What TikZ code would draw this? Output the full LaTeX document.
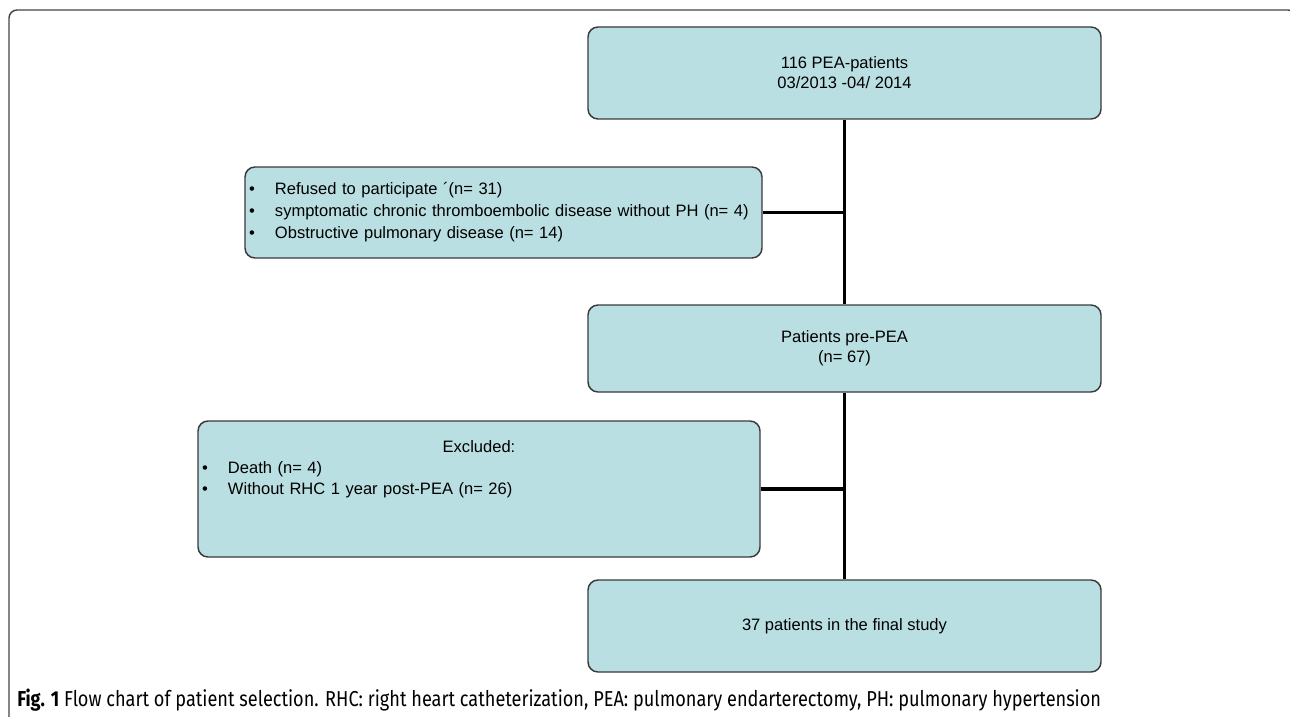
\documentclass[tikz,border=0pt]{standalone}
\usepackage{fontspec}
\setmainfont{Liberation Sans}
\newfontfamily\capfont[FakeStretch=0.84]{Fira Sans}
\usepackage{xcolor}
\usetikzlibrary{positioning,calc}

\definecolor{boxfill}{HTML}{BADFE2}
\definecolor{boxline}{HTML}{3A3A3A}
\definecolor{framegray}{HTML}{444444}

\tikzset{
    flowbox/.style={draw=boxline, fill=boxfill, line width=1.1pt, rounded corners=7.5pt,
        font=\fontsize{12.4}{15}\selectfont, inner sep=0pt, align=center},
    trunk/.style={line width=2.4pt, black},
}
\newcommand{\bul}{\makebox[19.5pt][l]{\textbullet}}

\begin{document}
\begin{tikzpicture}[x=0.75pt, y=-0.75pt]
        \useasboundingbox (0,0) rectangle (1290,717);
        % Frame
        \draw[framegray, line width=1.1pt, rounded corners=6pt] (9,740) -- (9,10) -- (1296,10) -- (1296,740);

        % Main column
        \node[flowbox, minimum width=384.75pt, minimum height=69pt] (start) at (844.5,73)
            {116 PEA-patients\\03/2013 -04/ 2014};
        \node[flowbox, minimum width=384.75pt, minimum height=65.25pt] (pre) at (844.5,348.5)
            {Patients pre-PEA\\(n= 67)};
        \node[flowbox, minimum width=384.75pt, minimum height=69pt] (final) at (844.5,626)
            {37 patients in the final study};

        % Exclusions
        \node[flowbox, minimum width=387.75pt, minimum height=68.25pt, text width=381.75pt,
            align=left, font=\fontsize{12.4}{16.5}\selectfont] (refused) at (503.5,212.5)
            {\bul Refused to participate ´(n= 31)\\
             \bul symptomatic chronic thromboembolic disease without PH (n= 4)\\
             \bul Obstructive pulmonary disease (n= 14)};
        \node[flowbox, minimum width=421.5pt, minimum height=102pt, text width=415.5pt,
            align=left, font=\fontsize{12.4}{15.75}\selectfont] (excluded) at (479,489)
            {\makebox[\hsize]{Excluded:}\\
             \bul Death (n= 4)\\
             \bul Without RHC 1 year post-PEA (n= 26)\\
             \mbox{}\\
             \mbox{}};

        % Connectors
        \draw[trunk] (start.south) -- (pre.north);
        \draw[trunk] (pre.south) -- (final.north);
        \draw[trunk] (refused.east) -- (refused.east -| start.south);
        \draw[trunk] (excluded.east) -- (excluded.east -| pre.south);

        % Caption
        \node[anchor=base west, inner sep=0pt, font=\capfont\fontsize{16.2}{18}\selectfont] (caption) at (17,706)
            {\textbf{Fig. 1} Flow chart of patient selection. RHC: right heart catheterization, PEA: pulmonary endarterectomy, PH: pulmonary hypertension};
    \end{tikzpicture}
\end{document}
